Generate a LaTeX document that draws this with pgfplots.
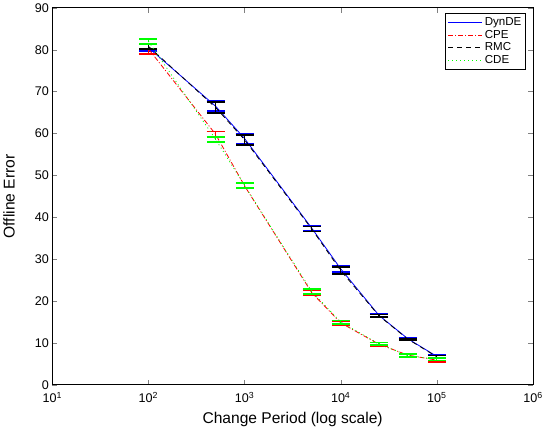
\documentclass[border=0pt]{standalone}
\usepackage{fontspec}
\setmainfont{Liberation Sans}
\usepackage{pgfplots}
\pgfplotsset{compat=1.18}
\begin{document}
\begin{tikzpicture}
\begin{axis}[
  scale only axis,
  width=478pt, height=375pt,
  xmode=log, log basis x=10,
  xmin=10, xmax=1e6, ymin=0, ymax=90,
  xtick={10,100,1000,10000,100000,1000000},
  xticklabels={10\textsuperscript{1},10\textsuperscript{2},10\textsuperscript{3},10\textsuperscript{4},10\textsuperscript{5},10\textsuperscript{6}},
  ytick={0,10,...,90},
  /pgf/number format/assume math mode=true,
  tick label style={font=\fontsize{12.5}{14}\selectfont},
  xticklabel style={yshift=-4pt},
  label style={font=\fontsize{15.5}{18}\selectfont},
  xlabel={Change Period (log scale)},
  xlabel shift=2pt,
  ylabel={Offline Error},
  ylabel shift=13pt,
  tick align=inside,
  major tick length=5pt, minor tick length=3pt,
  axis line style={line width=0.8pt},
  legend style={at={(0.985,0.985)}, anchor=north east, font=\fontsize{11.5}{13}\selectfont, line width=0.6pt, row sep=-1pt, inner sep=2pt},
  legend cell align=left,
  legend image code/.code={\draw[#1] (0cm,0cm) -- (1.2cm,0cm);},
  error bars/y dir=both, error bars/y explicit,
  error bars/error mark options={rotate=90, mark size=9pt, line width=1.6pt},
  error bars/error bar style={line width=1.2pt},
]
\addlegendimage{draw=blue, solid, line width=0.9pt}
\addlegendentry{DynDE}
\addlegendimage{draw=red, dash pattern=on 5pt off 2pt on 1pt off 2pt, line width=0.9pt}
\addlegendentry{CPE}
\addlegendimage{draw=black, dash pattern=on 5pt off 4pt, line width=0.9pt}
\addlegendentry{RMC}
\addlegendimage{draw=green, dash pattern=on 1pt off 3pt, line width=0.9pt}
\addlegendentry{CDE}
\addplot[blue, solid, line width=0.8pt, mark=none, forget plot] coordinates {
(100,80.5) +- (0,0.8)
(500,66.5) +- (0,1.2)
(1000,58.8) +- (0,1.2)
(5000,37.4) +- (0,0.6)
(10000,27.7) +- (0,0.8)
(25000,16.6) +- (0,0.3)
(50000,11.0) +- (0,0.2)
(100000,6.8) +- (0,0.3)
};
\addplot[red, dash pattern=on 5pt off 2pt on 1pt off 2pt, line width=0.8pt, mark=none, forget plot] coordinates {
(100,80.2) +- (0,1.2)
(500,59.8) +- (0,0.7)
(1000,47.5) +- (0,0.6)
(5000,22.0) +- (0,0.6)
(10000,14.8) +- (0,0.5)
(25000,9.7) +- (0,0.4)
(50000,7.1) +- (0,0.3)
(100000,5.9) +- (0,0.4)
};
\addplot[black, dash pattern=on 5pt off 4pt, line width=0.8pt, mark=none, forget plot] coordinates {
(100,80.8) +- (0,0.7)
(500,66.2) +- (0,1.3)
(1000,58.5) +- (0,1.2)
(5000,37.2) +- (0,0.6)
(10000,27.3) +- (0,0.8)
(25000,16.5) +- (0,0.3)
(50000,10.9) +- (0,0.2)
(100000,6.7) +- (0,0.3)
};
\addplot[green, dash pattern=on 1pt off 3pt, line width=0.8pt, mark=none, forget plot] coordinates {
(100,82.0) +- (0,0.6)
(500,58.6) +- (0,0.6)
(1000,47.6) +- (0,0.6)
(5000,22.3) +- (0,0.6)
(10000,15.0) +- (0,0.4)
(25000,9.8) +- (0,0.3)
(50000,7.0) +- (0,0.3)
(100000,6.1) +- (0,0.3)
};
\end{axis}
\end{tikzpicture}
\end{document}
